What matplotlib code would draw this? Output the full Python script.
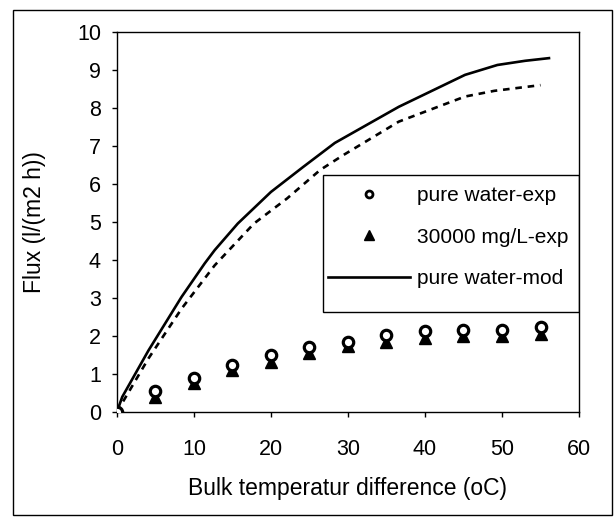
import matplotlib
matplotlib.use("Agg")
import matplotlib.pyplot as plt
from matplotlib.patches import Rectangle

# experimental points
x_exp = [0, 5, 10, 15, 20, 25, 30, 35, 40, 45, 50, 55]
pure_exp = [0, 0.55, 0.90, 1.23, 1.49, 1.71, 1.84, 2.02, 2.13, 2.17, 2.17, 2.24]
salt_exp = [0, 0.40, 0.76, 1.10, 1.32, 1.55, 1.73, 1.84, 1.96, 1.99, 1.99, 2.06]

# model curves
x_mod = [0, 0.7, 4.1, 8.4, 11.4, 12.7, 15.7, 20, 24.2, 28.3, 36.6, 45.2, 49.4, 53, 56.1]
pure_mod = [0, 0.40, 1.62, 3.03, 3.91, 4.26, 4.96, 5.79, 6.45, 7.08, 8.03, 8.87, 9.13, 9.24, 9.31]
x_mod2 = [0, 4.1, 8.4, 12.7, 17.8, 22.1, 26.4, 29.4, 36.6, 45.2, 49, 55]
salt_mod = [0, 1.41, 2.72, 3.86, 4.96, 5.62, 6.37, 6.76, 7.64, 8.30, 8.45, 8.60]

xticks = [0, 10, 20, 30, 40, 50, 60]
yticks = [0, 1, 2, 3, 4, 5, 6, 7, 8, 9, 10]

plt.rcParams['font.family'] = ['Liberation Sans', 'DejaVu Sans']

fig = plt.figure(figsize=(6.15, 5.23), dpi=100)
ax = fig.add_axes([0.19, 0.212, 0.7515, 0.727])

ax.plot(x_mod, pure_mod, color='black', lw=1.9, label='pure water-mod', zorder=2)
ax.plot(x_mod2, salt_mod, color='black', lw=1.9, dashes=(2.5, 2.2), zorder=2)
ax.plot(x_exp, salt_exp, linestyle='none', marker='^', ms=9, color='black',
        label='30000 mg/L-exp', zorder=3)
ax.plot(x_exp, pure_exp, linestyle='none', marker='o', ms=7.5, mfc='white',
        mec='black', mew=2.3, label='pure water-exp', zorder=4)

ax.set_xlim(0, 60)
ax.set_ylim(0, 10)
ax.set_xticks(xticks)
ax.set_yticks(yticks)
ax.tick_params(axis='x', labelsize=15.5, length=3.5, width=1, pad=16)
ax.tick_params(axis='y', labelsize=15.5, length=3.5, width=1, pad=8)
for s in ax.spines.values():
    s.set_linewidth(1)

ax.set_xlabel('Bulk temperatur difference (oC)', fontsize=16.5, labelpad=12)
ax.set_ylabel('Flux (l/(m2 h))', fontsize=16.5, labelpad=22)

# legend box drawn separately so the spacing can match
ax.add_patch(Rectangle((0.446, 0.263), 0.554, 0.36, transform=ax.transAxes,
                       fill=False, edgecolor='black', lw=1, zorder=5))
h, l = ax.get_legend_handles_labels()
order = [2, 1, 0]
leg = ax.legend([h[i] for i in order], [l[i] for i in order],
                loc='upper left', bbox_to_anchor=(0.457, 0.594),
                fontsize=15, numpoints=1, handlelength=3.93,
                handletextpad=0.34, labelspacing=1.08, borderaxespad=0,
                borderpad=0, frameon=False)
leg.legend_handles[0].set_markersize(5)
leg.legend_handles[0].set_markeredgewidth(2)
leg.legend_handles[1].set_markersize(7)

# outer frame of the scanned figure
fig.patches.append(Rectangle((0.021, 0.015), 0.974, 0.966, transform=fig.transFigure,
                             fill=False, edgecolor='black', lw=1))

fig.savefig('out.png', dpi=100)
